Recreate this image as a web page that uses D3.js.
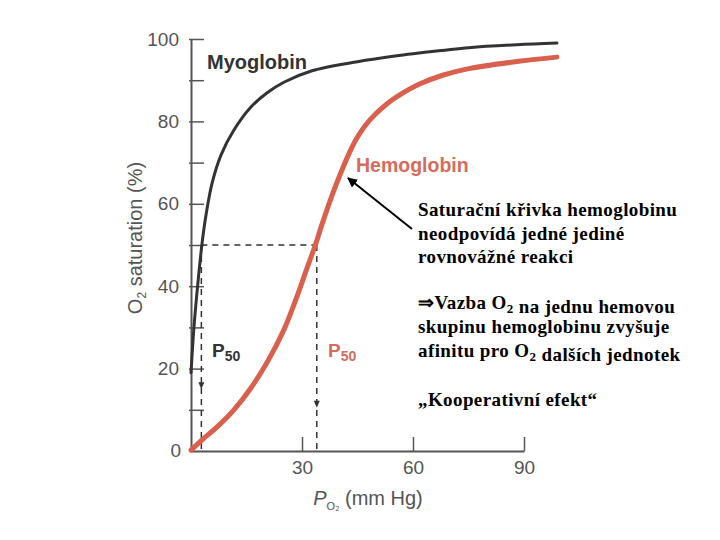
<!DOCTYPE html>
<html>
<head>
<meta charset="utf-8">
<script src="https://cdn.jsdelivr.net/npm/d3@7/dist/d3.min.js"></script>
<style>
  html, body { margin: 0; padding: 0; background: #fff; }
  svg { display: block; }
</style>
</head>
<body>
<svg id="chart" width="720" height="540"></svg>
<script>
// ---------- data ----------
const myoPO2 = [0, 0.8, 2.0, 3.0, 4.1, 5.7, 8.1, 11.6, 16.2, 20.5, 25.1, 32.7, 45, 56.2, 61.6, 75.1, 88, 98.9];
const myoSat = [19, 30, 42, 50.5, 57.5, 65.0, 71.8, 77.9, 83.5, 86.9, 89.5, 92.3, 94.5, 96.0, 96.6, 97.9, 98.6, 99.0];

const hbPO2 = [0, 3.0, 7.0, 11.6, 16.2, 20.5, 25.1, 28.6, 31.4, 33.8, 35.4, 38.1, 40.8, 42.6, 44.6, 47.0, 50.0, 53.0, 56.2, 61.6, 68.0, 75.1, 88.6, 98.9];
const hbSat = [0.2, 2.7, 5.8, 10.0, 15.3, 21.4, 29.4, 37.4, 44.5, 50.5, 55.0, 62.0, 68.2, 72.0, 75.6, 78.9, 81.9, 84.3, 86.3, 89.0, 91.2, 92.8, 94.6, 95.6];

const p50Myo = 2.8;
const p50Hb = 34;
const xTicks = [30, 60, 90];
const yTicks = [10, 20, 30, 40, 50, 60, 70, 80, 90, 100];
const yLabelTicks = [0, 20, 40, 60, 80, 100];

const noteLines1 = ["Saturační křivka hemoglobinu", "neodpovídá jedné jediné", "rovnovážné reakci"];

// ---------- setup ----------
const svg = d3.select("#chart");
const x = d3.scaleLinear().domain([0, 90]).range([191, 524]);
const y = d3.scaleLinear().domain([0, 100]).range([451, 39]);

const axisColor = "#555";
const sans = "'Liberation Sans', Arial, Helvetica, sans-serif";
const serif = "'Liberation Serif', 'Times New Roman', serif";

// y axis
const yAxis = d3.axisLeft(y).tickValues(yTicks).tickSizeInner(-13).tickSizeOuter(0).tickPadding(12)
  .tickFormat(d => yLabelTicks.includes(d) ? d : "");
const gy = svg.append("g").attr("transform", `translate(${x(0)},0)`).call(yAxis);
gy.select(".domain").attr("stroke", axisColor).attr("stroke-width", 2);
gy.selectAll(".tick line").attr("stroke", axisColor).attr("stroke-width", 1.5).attr("x1", -2);
gy.selectAll(".tick text").attr("fill", axisColor).style("font-family", sans).style("font-size", "19px");
gy.append("text").attr("x", -10).attr("y", y(0)).attr("dy", "0.32em").attr("text-anchor", "end")
  .attr("fill", axisColor).style("font-family", sans).style("font-size", "19px").text("0");

// x axis
const xAxis = d3.axisBottom(x).tickValues(xTicks).tickSizeInner(-14).tickSizeOuter(0).tickPadding(10);
const gx = svg.append("g").attr("transform", `translate(0,${y(0)})`).call(xAxis);
gx.select(".domain").attr("stroke", axisColor).attr("stroke-width", 2);
gx.selectAll(".tick line").attr("stroke", axisColor).attr("stroke-width", 1.5);
gx.selectAll(".tick text").attr("fill", axisColor).style("font-family", sans).style("font-size", "19px");

// axis titles
const yt = svg.append("text")
  .attr("transform", `translate(142,238) rotate(-90)`)
  .attr("text-anchor", "middle")
  .attr("fill", axisColor).style("font-family", sans).style("font-size", "20px");
yt.append("tspan").text("O");
yt.append("tspan").attr("dy", 4).style("font-size", "12px").text("2");
yt.append("tspan").attr("dy", -4).text(" saturation (%)");

const xt = svg.append("text").attr("x", 368).attr("y", 505).attr("text-anchor", "middle")
  .attr("fill", axisColor).style("font-family", sans).style("font-size", "20px");
xt.append("tspan").style("font-style", "italic").text("P");
xt.append("tspan").attr("dy", 5).style("font-size", "11px").text("O₂");
xt.append("tspan").attr("dy", -5).text(" (mm Hg)");

// dashed guides
const dash = "6,5";
const guide = svg.append("g").attr("stroke", "#333").attr("stroke-width", 1.5).attr("fill", "none");
guide.append("line").attr("x1", x(p50Myo)).attr("x2", x(p50Hb)).attr("y1", y(50)).attr("y2", y(50)).attr("stroke-dasharray", dash);
guide.append("line").attr("x1", x(p50Myo)).attr("x2", x(p50Myo)).attr("y1", y(50)).attr("y2", y(0)).attr("stroke-dasharray", dash);
guide.append("line").attr("x1", x(p50Hb)).attr("x2", x(p50Hb)).attr("y1", y(50)).attr("y2", y(0)).attr("stroke-dasharray", dash);
function downArrow(cx, cy) {
  svg.append("path").attr("d", `M${cx - 3},${cy - 7} L${cx + 3},${cy - 7} L${cx},${cy} Z`).attr("fill", "#333");
}
downArrow(x(p50Myo), y(15));
downArrow(x(p50Hb), y(10.5));

// curves
const lineGen = d3.line().x(d => x(d[0])).y(d => y(d[1])).curve(d3.curveCatmullRom.alpha(0.5));
svg.append("path").datum(hbPO2.map((v, i) => [v, hbSat[i]]))
  .attr("d", lineGen).attr("fill", "none").attr("stroke", "#d9604c").attr("stroke-width", 5)
  .attr("stroke-linecap", "round");
svg.append("path").datum(myoPO2.map((v, i) => [v, myoSat[i]]))
  .attr("d", lineGen).attr("fill", "none").attr("stroke", "#333").attr("stroke-width", 3)
  .attr("stroke-linecap", "round");

// curve labels
svg.append("text").attr("x", 207).attr("y", 69).attr("fill", "#333")
  .style("font-family", sans).style("font-weight", "bold").style("font-size", "20px").text("Myoglobin");
svg.append("text").attr("x", 356).attr("y", 172).attr("fill", "#d46d5d")
  .style("font-family", sans).style("font-weight", "bold").style("font-size", "19.5px").text("Hemoglobin");

function p50Label(px, py, color) {
  const t = svg.append("text").attr("x", px).attr("y", py).attr("fill", color)
    .style("font-family", sans).style("font-weight", "bold").style("font-size", "19px");
  t.append("tspan").text("P");
  t.append("tspan").attr("dy", 4).style("font-size", "14px").text("50");
}
p50Label(212, 357, "#333");
p50Label(328, 357, "#d46d5d");

// annotation arrow
svg.append("defs").append("marker").attr("id", "ah").attr("viewBox", "0 0 10 10")
  .attr("refX", 9).attr("refY", 5).attr("markerWidth", 5).attr("markerHeight", 5).attr("orient", "auto")
  .append("path").attr("d", "M0,0 L10,5 L0,10 Z").attr("fill", "#000");
svg.append("line").attr("x1", 412).attr("y1", 229).attr("x2", 348).attr("y2", 178)
  .attr("stroke", "#000").attr("stroke-width", 2).attr("marker-end", "url(#ah)");

// annotation texts
const noteStyle = t => t.attr("fill", "#000").style("font-family", serif).style("font-weight", "bold")
  .style("font-size", "19px").style("letter-spacing", "0.4px");
noteLines1.forEach((s, i) => {
  noteStyle(svg.append("text").attr("x", 418).attr("y", 216 + i * 23.5)).text(s);
});

function subLine(yy, parts) {
  const t = noteStyle(svg.append("text").attr("x", 418).attr("y", yy));
  parts.forEach(p => {
    if (p.sub) {
      t.append("tspan").attr("dy", 4).style("font-size", "13px").text(p.sub);
      t.append("tspan").attr("dy", -4).text("");
    } else {
      t.append("tspan").text(p.t);
    }
  });
}
subLine(309, [{t: "⇒Vazba O"}, {sub: "2"}, {t: " na jednu hemovou"}]);
subLine(333, [{t: "skupinu hemoglobinu zvyšuje"}]);
subLine(357, [{t: "afinitu pro O"}, {sub: "2"}, {t: " dalších jednotek"}]);
subLine(406, [{t: "„Kooperativní efekt“"}]);
</script>
</body>
</html>
